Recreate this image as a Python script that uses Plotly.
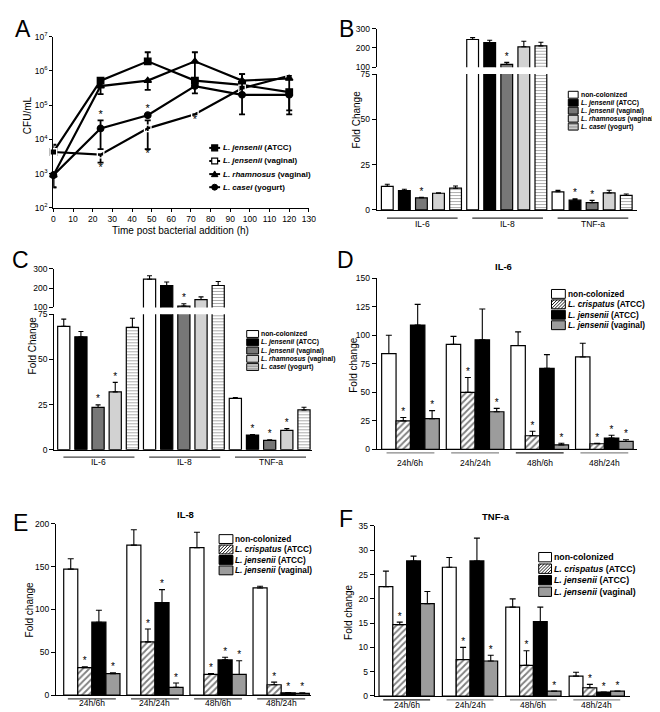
import plotly.graph_objects as go

W, H = 660, 712
FONT = "Liberation Sans, Arial, Helvetica, sans-serif"

# ---------------- data ----------------
# Panel A : CFU/mL over time
A_hours = [0, 24, 48, 72, 96, 120]
A_series = ["L. jensenii (ATCC)", "L. jensenii (vaginal)", "L. rhamnosus (vaginal)", "L. casei (yogurt)"]
A_jensenii_atcc = [4300, 5.2e5, 1.9e6, 5.2e5, 3.9e5, 2.4e5]
A_jensenii_vaginal = [4300, 3600, 2.1e4, 5.4e4, 3.1e5, 7.2e5]
A_rhamnosus = [900, 3.6e5, 5.2e5, 1.9e6, 5.2e5, 6.0e5]
A_casei = [900, 2.1e4, 5.1e4, 3.6e5, 2.0e5, 2.0e5]
A_err_up = [[0, 0, 1.6e6, 0, 0, 0],
            [2700, 0, 1.5e4, 0, 0, 0],
            [0, 1.6e5, 0, 1.6e6, 2.8e5, 0],
            [0, 1.5e4, 0, 0, 6.0e5, 0]]
A_err_down = [[0, 0, 0, 0, 0, 0],
              [0, 1500, 1.58e4, 0, 0, 0],
              [500, 1.5e5, 2.4e5, 1.68e6, 0, 5.3e5],
              [500, 1.58e4, 0, 0, 1.46e5, 1.46e5]]
A_sig = [(3, 1, "up"), (1, 1, "down"), (3, 2, "up"), (1, 2, "down"), (1, 3, "down")]
A_yticks = [1e2, 1e3, 1e4, 1e5, 1e6, 1e7]
A_yticktext = ["10<sup>2</sup>", "10<sup>3</sup>", "10<sup>4</sup>", "10<sup>5</sup>", "10<sup>6</sup>", "10<sup>7</sup>"]
A_xticks = list(range(0, 131, 10))

# Panels B, C : fold change per cytokine (rows = strains, cols = cytokines)
BC_cytokines = ["IL-6", "IL-8", "TNF-a"]
BC_strains = ["non-colonized", "L. jensenii (ATCC)", "L. jensenii (vaginal)",
              "L. rhamnosus (vaginal)", "L. casei (yogurt)"]
B_mean = [[13, 244, 10], [10.7, 228, 5.4], [6.7, 115, 4.0], [9.2, 206, 9.4], [12, 211, 8.0]]
B_sem = [[1.2, 10, 0.8], [0.7, 12, 0.7], [0.3, 10, 1.3], [0.3, 29, 1.5], [1.2, 19, 0.8]]
B_sig = [(2, 0), (2, 1), (1, 2), (2, 2)]
C_mean = [[68.3, 247, 28.4], [62.5, 213, 8.1], [23.4, 107, 5.2], [32, 141, 10.7], [67.8, 214, 22]]
C_sem = [[4, 18, 0.5], [3, 19, 0.3], [1.4, 12, 0.3], [5.3, 14, 1.0], [5, 21, 1.5]]
C_sig = [(2, 0), (3, 0), (2, 1), (1, 2), (2, 2), (3, 2)]
BC_low_ticks = [0, 25, 50, 75]
BC_high_ticks = [100, 200, 300]

# Panels D, E, F : fold change per time point (rows = strains, cols = time points)
DEF_times = ["24h/6h", "24h/24h", "48h/6h", "48h/24h"]
DEF_strains = ["non-colonized", "L. crispatus (ATCC)", "L. jensenii (ATCC)", "L. jensenii (vaginal)"]
D_mean = [[84, 92, 91, 81], [25, 50, 12, 5], [109, 96, 71, 10], [27, 33, 4, 7]]
D_sem = [[16, 7, 12, 12], [3, 13, 4, 0.5], [18, 27, 12, 2.5], [7, 3, 1.5, 1.5]]
D_sig = [(1, 0), (3, 0), (1, 1), (3, 1), (1, 2), (3, 2), (1, 3), (2, 3), (3, 3)]
E_mean = [[147, 175, 172, 125], [32, 62, 24, 12], [85, 108, 41, 2.5], [25, 9, 24, 2]]
E_sem = [[12, 18, 18, 2], [1, 15, 1, 3], [14, 15, 3, 0.5], [1, 5, 16, 0.5]]
E_sig = [(1, 0), (3, 0), (1, 1), (2, 1), (3, 1), (1, 2), (2, 2), (3, 2), (1, 3), (2, 3), (3, 3)]
F_mean = [[22.5, 26.5, 18.3, 4.1], [14.7, 7.5, 6.3, 1.7], [27.8, 27.8, 15.3, 0.8], [19, 7.2, 1.0, 1.0]]
F_sem = [[3.2, 2, 1.7, 0.8], [0.5, 2.5, 3, 0.7], [1, 4.7, 3, 0], [2.5, 1.2, 0, 0]]
F_sig = [(1, 0), (1, 1), (3, 1), (1, 2), (3, 2), (1, 3), (2, 3), (3, 3)]
D_ticks = [0, 25, 50, 75, 100, 125, 150]
E_ticks = [0, 50, 100, 150, 200]
F_ticks = [0, 5, 10, 15, 20, 25, 30, 35]

# ---------------- styles ----------------
BC_styles = [dict(color="white"), dict(color="black"), dict(color="#777777"),
             dict(color="#d2d2d2"), dict(color="white", pattern="-")]
DEF_styles = [dict(color="white"), dict(color="white", pattern="/"),
              dict(color="black"), dict(color="#9c9c9c")]


def X(px):
    return px / W


def Y(py):
    return 1 - py / H


def dom_x(l, r):
    return [X(l), X(r)]


def dom_y(top, bot):
    return [Y(bot), Y(top)]


fig = go.Figure()
shapes = []
annotations = []

tickfont = dict(family=FONT, size=8.5, color="black")


def axis(**kw):
    d = dict(showline=True, linecolor="black", linewidth=1.4, ticks="outside", ticklen=3,
             tickwidth=1.1, tickcolor="black", showgrid=False, zeroline=False, tickfont=tickfont,
             fixedrange=True)
    d.update(kw)
    return d


def ann(x, y, text, size=8.5, bold=False, xanchor="center", yanchor="middle", angle=0, xref="paper"):
    if bold:
        text = "<b>" + text + "</b>"
    annotations.append(dict(x=x, y=y, xref=xref, yref="paper", text=text, showarrow=False,
                            xanchor=xanchor, yanchor=yanchor, textangle=angle,
                            font=dict(family=FONT, size=size, color="black")))


def fmt_name(name):
    if name.startswith("L. "):
        i = name.index(" (")
        return "<i>" + name[:i] + "</i>" + name[i:]
    return name


def bar_marker(style):
    m = dict(color=style["color"], line=dict(color="black", width=1.2))
    if style.get("pattern") == "-":
        m["pattern"] = dict(shape="-", fgcolor="#5a5a5a", bgcolor="white", size=3, solidity=0.35)
    elif style.get("pattern") == "/":
        m["pattern"] = dict(shape="/", fgcolor="black", bgcolor="white", size=4.5, solidity=0.4)
    return m


def swatch(x0, yc, w, h, style):
    y0, y1 = yc - h / 2, yc + h / 2
    shapes.append(dict(type="rect", xref="paper", yref="paper", x0=X(x0), x1=X(x0 + w),
                       y0=Y(y1), y1=Y(y0), fillcolor=style["color"],
                       line=dict(color="black", width=1)))
    pat = style.get("pattern")
    if pat == "-":
        yy = y0 + 1.5
        while yy < y1 - 0.5:
            shapes.append(dict(type="line", xref="paper", yref="paper", x0=X(x0), x1=X(x0 + w),
                               y0=Y(yy), y1=Y(yy), line=dict(color="#5a5a5a", width=0.7)))
            yy += 1.6
    elif pat == "/":
        c = x0 + y0 + 2.5
        while c < x0 + w + y1:
            xa, xb = max(x0, c - y1), min(x0 + w, c - y0)
            if xb - xa > 0.3:
                shapes.append(dict(type="line", xref="paper", yref="paper", x0=X(xa), x1=X(xb),
                                   y0=Y(c - xa), y1=Y(c - xb), line=dict(color="black", width=0.9)))
            c += 3.2


def legend_block(x0, y0, dy, w, h, names, styles, size):
    for k, (nm, st) in enumerate(zip(names, styles)):
        yc = y0 + k * dy
        swatch(x0, yc, w, h, st)
        ann(X(x0 + w + 0.5), Y(yc), fmt_name(nm), size=size, bold=True, xanchor="left")


def sig_trace(xs, ys, xa, ya):
    fig.add_trace(go.Scatter(x=xs, y=ys, mode="text", text=["*"] * len(xs), textposition="top center",
                             textfont=dict(family=FONT, size=10, color="black"), cliponaxis=False,
                             xaxis=xa, yaxis=ya, hoverinfo="skip", showlegend=False))


# ---------------- Panel A ----------------
A_values = [A_jensenii_atcc, A_jensenii_vaginal, A_rhamnosus, A_casei]
A_symbols = ["square", "square-open", "triangle-up", "circle"]
for k in range(4):
    fig.add_trace(go.Scatter(
        x=A_hours, y=A_values[k], mode="lines+markers", name=A_series[k],
        line=dict(color="black", width=2.2),
        marker=dict(symbol=A_symbols[k], size=6.5, color="black" if k != 1 else "white",
                    line=dict(color="black", width=1.3)),
        error_y=dict(type="data", symmetric=False, array=A_err_up[k], arrayminus=A_err_down[k],
                     color="black", thickness=1.8, width=3),
        cliponaxis=False, xaxis="x", yaxis="y", showlegend=False))
for s, t, side in A_sig:
    v = A_values[s][t]
    if side == "up":
        yv = v + A_err_up[s][t]
        pos = "top center"
    else:
        yv = v - A_err_down[s][t]
        pos = "bottom center"
    fig.add_trace(go.Scatter(x=[A_hours[t]], y=[yv], mode="text", text=["*"], textposition=pos,
                             textfont=dict(family=FONT, size=11, color="black"), cliponaxis=False,
                             xaxis="x", yaxis="y", hoverinfo="skip", showlegend=False))

layout_axes = {}
layout_axes["xaxis"] = axis(domain=dom_x(44, 303), range=[0, 130], tickvals=A_xticks, anchor="y")
layout_axes["yaxis"] = axis(domain=dom_y(23, 197), type="log", range=[2, 7], tickvals=A_yticks,
                            ticktext=A_yticktext, anchor="x")
ann(X(173), Y(220), "Time post bacterial addition (h)", size=10)
ann(X(18), Y(103), "CFU/mL", size=10, angle=-90)
# legend A (drawn)
for k, nm in enumerate(A_series):
    yc = 136 + k * 13.3
    shapes.append(dict(type="line", xref="paper", yref="paper", x0=X(202), x1=X(213), y0=Y(yc), y1=Y(yc),
                       line=dict(color="black", width=2)))
    cx = 207.5
    if k in (0, 1):
        shapes.append(dict(type="rect", xref="paper", yref="paper", x0=X(cx - 3), x1=X(cx + 3),
                           y0=Y(yc + 3), y1=Y(yc - 3), fillcolor="black" if k == 0 else "white",
                           line=dict(color="black", width=1.2)))
    elif k == 2:
        path = "M %f %f L %f %f L %f %f Z" % (X(cx - 3.3), Y(yc + 2.6), X(cx + 3.3), Y(yc + 2.6), X(cx), Y(yc - 3.2))
        shapes.append(dict(type="path", xref="paper", yref="paper", path=path, fillcolor="black",
                           line=dict(color="black", width=1)))
    else:
        shapes.append(dict(type="circle", xref="paper", yref="paper", x0=X(cx - 3), x1=X(cx + 3),
                           y0=Y(yc + 3), y1=Y(yc - 3), fillcolor="black", line=dict(color="black", width=1)))
    ann(X(214), Y(yc), fmt_name(nm), size=8, bold=True, xanchor="left")


# ---------------- Panels B, C (broken axes) ----------------
def broken_panel(means, sems, sigs, xa, ylo, yhi, xnum, ylo_num, yhi_num, xdom, lo_dom, hi_dom,
                 xrange, width, underline_y, label_y, ul_color):
    n_s = len(BC_strains)
    for s in range(n_s):
        xs = [g * n_s + s for g in range(len(BC_cytokines))]
        err_lo = [e if m <= 75 else float("nan") for m, e in zip(means[s], sems[s])]
        fig.add_trace(go.Bar(x=xs, y=means[s], width=width, marker=bar_marker(BC_styles[s]),
                             error_y=dict(type="data", symmetric=False, array=err_lo,
                                          arrayminus=[0] * len(xs), color="black", thickness=1.1, width=2.5),
                             xaxis=xa, yaxis=ylo, showlegend=False, hoverinfo="skip"))
        hx = [x for x, m in zip(xs, means[s]) if m > 100]
        hy = [m for m in means[s] if m > 100]
        he = [e for m, e in zip(means[s], sems[s]) if m > 100]
        if hx:
            fig.add_trace(go.Bar(x=hx, y=hy, width=width, marker=bar_marker(BC_styles[s]),
                                 error_y=dict(type="data", symmetric=False, array=he,
                                              arrayminus=[0] * len(hx), color="black", thickness=1.1, width=2.5),
                                 xaxis=xa, yaxis=yhi, showlegend=False, hoverinfo="skip"))
    for s, g in sigs:
        top = means[s][g] + sems[s][g]
        sig_trace([g * n_s + s], [top], xa, yhi if top > 100 else ylo)
    layout_axes["xaxis%d" % xnum] = axis(domain=xdom, range=xrange, anchor=ylo, ticks="",
                                         showticklabels=False)
    layout_axes["yaxis%d" % ylo_num] = axis(domain=lo_dom, range=[0, 75], tickvals=BC_low_ticks,
                                            anchor=xa, ticklen=4)
    layout_axes["yaxis%d" % yhi_num] = axis(domain=hi_dom, range=[100, 300], tickvals=BC_high_ticks,
                                            anchor=xa, ticklen=4)
    for g, name in enumerate(BC_cytokines):
        shapes.append(dict(type="line", xref=xa, yref="paper", x0=g * n_s - 0.02, x1=g * n_s + 4.12,
                           y0=Y(underline_y), y1=Y(underline_y), line=dict(color=ul_color, width=1.3)))
        ann(g * n_s + 2.05, Y(label_y), name, size=8.5, xref=xa)


broken_panel(B_mean, B_sem, B_sig, "x2", "y2", "y3", 2, 2, 3, dom_x(372, 636), dom_y(61, 199),
             dom_y(15, 54), [-0.607, 14.65], 0.69, 207.3, 213.4, "#333333")
broken_panel(C_mean, C_sem, C_sig, "x3", "y4", "y5", 3, 4, 5, dom_x(45, 305.7), dom_y(305, 442.5),
             dom_y(259, 298), [-0.546, 14.44], 0.71, 450, 455.5, "#444444")
ann(X(351), Y(107), "Fold Change", size=10, angle=-90)
ann(X(23), Y(337), "Fold Change", size=10, angle=-90)
legend_block(566, 82, 8.1, 10, 7, BC_strains, BC_styles, 6.8)
legend_block(240, 325, 8.4, 12, 7, BC_strains, BC_styles, 6.8)


# ---------------- Panels D, E, F ----------------
def time_panel(means, sems, sigs, ticks, xa, ya, xnum, ynum, xdom, ydom, xrange, yrange, bw,
               half_ul, underline_y, label_y, ul_colors):
    n_s = len(DEF_strains)
    for s in range(n_s):
        xs = [g + (s - (n_s - 1) / 2) * bw for g in range(len(DEF_times))]
        fig.add_trace(go.Bar(x=xs, y=means[s], width=bw, marker=bar_marker(DEF_styles[s]),
                             error_y=dict(type="data", symmetric=False, array=sems[s],
                                          arrayminus=[0] * len(xs), color="black", thickness=1.1, width=3),
                             xaxis=xa, yaxis=ya, showlegend=False, hoverinfo="skip"))
    sx = [g + (s - (n_s - 1) / 2) * bw for s, g in sigs]
    sy = [means[s][g] + sems[s][g] for s, g in sigs]
    sig_trace(sx, sy, xa, ya)
    layout_axes["xaxis%d" % xnum] = axis(domain=xdom, range=xrange, anchor=ya, ticks="",
                                         showticklabels=False)
    layout_axes["yaxis%d" % ynum] = axis(domain=ydom, range=yrange, tickvals=ticks, anchor=xa, ticklen=4)
    for g, name in enumerate(DEF_times):
        shapes.append(dict(type="line", xref=xa, yref="paper", x0=g - half_ul, x1=g + half_ul,
                           y0=Y(underline_y), y1=Y(underline_y), line=dict(color=ul_colors[g], width=1.3)))
        ann(g, Y(label_y), name, size=8.5, xref=xa)


time_panel(D_mean, D_sem, D_sig, D_ticks, "x4", "y6", 4, 6, dom_x(372, 636), dom_y(268.3, 442.3),
           [-0.519, 3.51], [0, 150], 0.223, 0.37, 445.7, 455.7, ["#888", "#888", "#222", "#888"])
time_panel(E_mean, E_sem, E_sig, E_ticks, "x5", "y7", 5, 7, dom_x(46.7, 305), dom_y(517.7, 691.7),
           [-0.567, 3.47], [0, 200], 0.223, 0.38, 695.7, 700, ["#444", "#444", "#444", "#444"])
time_panel(F_mean, F_sem, F_sig, F_ticks, "x6", "y8", 6, 8, dom_x(370, 628.3), dom_y(520, 692.7),
           [-0.5, 3.52], [0, 35], 0.218, 0.37, 696.7, 702, ["#222", "#888", "#888", "#888"])
ann(X(348), Y(357), "Fold change", size=10, angle=-90)
ann(X(20), Y(605), "Fold change", size=10, angle=-90)
ann(X(343), Y(608), "Fold change", size=10, angle=-90)
ann(X(500.7), Y(256.7), "IL-6", size=9.5, bold=True)
ann(X(178), Y(508), "IL-8", size=9.5, bold=True)
ann(X(493), Y(510), "TNF-a", size=9.5, bold=True)
legend_block(549, 284.3, 10.6, 14, 9, DEF_strains, DEF_styles, 8.3)
legend_block(212, 533.3, 10.6, 14, 9, DEF_strains, DEF_styles, 8.3)
legend_block(536, 551.7, 11.7, 13, 9.5, DEF_strains, DEF_styles, 8.8)

# panel letters
for letter, px, py in [("A", 13, 15), ("B", 341, 15), ("C", 11, 250), ("D", 340, 250),
                       ("E", 11, 517), ("F", 341, 513)]:
    ann(X(px), Y(py), letter, size=23)

fig.update_layout(width=W, height=H, margin=dict(l=0, r=0, t=0, b=0), paper_bgcolor="white",
                  plot_bgcolor="white", barmode="overlay", showlegend=False,
                  font=dict(family=FONT, color="black"), shapes=shapes, annotations=annotations,
                  **layout_axes)
fig.write_html("out.html")
